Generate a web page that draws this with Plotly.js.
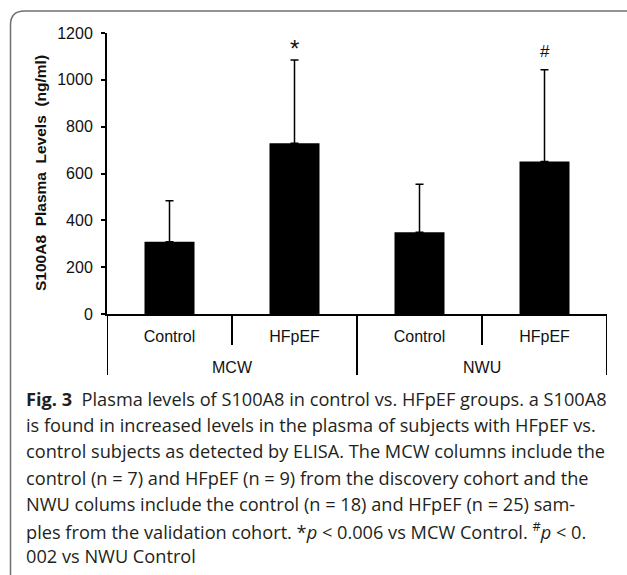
<!DOCTYPE html>
<html><head><meta charset="utf-8">
<script src="https://cdn.plot.ly/plotly-3.0.1.min.js"></script>
<style>html,body{margin:0;padding:0;background:#fff;overflow:hidden}#chart{width:627px;height:575px}</style>
</head><body><div id="chart"></div>
<script>
// ---- data ----
const cohorts = ["MCW", "MCW", "NWU", "NWU"];
const groups = ["Control", "HFpEF", "Control", "HFpEF"];
const meanLevels = [309, 729, 349, 651];
const sdLevels = [175, 356, 205, 392];
const sigMarks = ["", "*", "", "#"];
const yTickVals = [0, 200, 400, 600, 800, 1000, 1200];
const yTitle = "S100A8\u00a0 Plasma\u00a0 Levels\u00a0 (ng/ml)";
const captionLines = [
  "<b>Fig. 3</b>\u00a0 Plasma levels of S100A8 in control vs. HFpEF groups. a S100A8",
  "is found in increased levels in the plasma of subjects with HFpEF vs.",
  "control subjects as detected by ELISA. The MCW columns include the",
  "control (n = 7) and HFpEF (n = 9) from the discovery cohort and the",
  "NWU colums include the control (n = 18) and HFpEF (n = 25) sam-",
  "ples from the validation cohort. *<i>p</i> &lt; 0.006 vs MCW Control. <sup>#</sup><i>p</i> &lt; 0.",
  "002 vs NWU Control"
];

// ---- geometry ----
const W = 627, H = 575, L = 107, R = 20, T = 33, B = 261;
const PW = W - L - R, PH = H - T - B;
const fx = px => (px - L) / PW;
const fy = py => (T + PH - py) / PH;

const idx = groups.map((_, i) => i);

const shapes = [];
// category dividers (Excel style)
for (let i = 0; i <= groups.length; i++) {
  const outer = (i === 0 || i === groups.length || cohorts[i] !== cohorts[i - 1]);
  shapes.push({type: "line", xref: "x", yref: "paper", x0: i - 0.5, x1: i - 0.5,
    y0: 0, y1: fy(outer ? 375 : 345), line: {color: "#000", width: 2}});
}
// rounded frame
(function () {
  const x0 = 10.5, y0 = 11, x1 = 640, y1 = 588, r = 14;
  const p = (x, y) => fx(x) + "," + fy(y);
  const d = "M" + p(x0, y0 + r) + " Q" + p(x0, y0) + " " + p(x0 + r, y0) +
    " L" + p(x1 - r, y0) + " Q" + p(x1, y0) + " " + p(x1, y0 + r) +
    " L" + p(x1, y1 - r) + " Q" + p(x1, y1) + " " + p(x1 - r, y1) +
    " L" + p(x0 + r, y1) + " Q" + p(x0, y1) + " " + p(x0, y1 - r) + " Z";
  shapes.push({type: "path", xref: "paper", yref: "paper", path: d,
    line: {color: "#707070", width: 1.5}, fillcolor: "rgba(0,0,0,0)"});
})();

const annotations = [];
// significance marks
idx.forEach(i => {
  if (sigMarks[i]) annotations.push({x: i, y: meanLevels[i] + sdLevels[i], xref: "x", yref: "y",
    text: sigMarks[i], showarrow: false, yanchor: "bottom", yshift: sigMarks[i] === "*" ? -4 : 7,
    font: {family: "Liberation Sans, Arial", size: sigMarks[i] === "*" ? 24 : 17, color: "#111"}});
});
// cohort labels
[...new Set(cohorts)].forEach(c => {
  const ii = idx.filter(i => cohorts[i] === c);
  const xc = ii.reduce((a, b) => a + b, 0) / ii.length;
  annotations.push({x: xc, xref: "x", y: fy(367), yref: "paper", text: c, showarrow: false,
    yanchor: "middle", font: {family: "Liberation Sans, Arial", size: 16, color: "#111"}});
});
// y title
annotations.push({x: fx(40), xref: "paper", y: fy(173), yref: "paper", text: "<b>" + yTitle + "</b>",
  textangle: -90, showarrow: false, xanchor: "center", yanchor: "middle",
  font: {family: "Liberation Sans, Arial", size: 15.5, color: "#111"}});
// caption
captionLines.forEach((t, k) => {
  annotations.push({x: fx(24), xref: "paper", xanchor: "left", y: fy(399 + k * 26.2), yref: "paper",
    yanchor: "middle", text: t, showarrow: false, align: "left",
    font: {family: "Open Sans", size: 18.2, color: "#231f20"}});
});

const trace = {
  type: "bar", x: idx, y: meanLevels, width: 0.4,
  marker: {color: "#000", line: {width: 0}},
  error_y: {type: "data", symmetric: false, array: sdLevels, arrayminus: meanLevels.map(() => 0),
    color: "#000", thickness: 1.5, width: 4},
  hoverinfo: "skip"
};

const layout = {
  width: W, height: H, margin: {l: L, r: R, t: T, b: B, pad: 0},
  paper_bgcolor: "#fff", plot_bgcolor: "#fff", showlegend: false,
  font: {family: "Liberation Sans, Arial", size: 16, color: "#111"},
  xaxis: {range: [-0.5, groups.length - 0.5], tickvals: idx, ticktext: groups, ticks: "",
    showline: true, linecolor: "#000", linewidth: 2, showgrid: false, zeroline: false,
    ticklabelstandoff: 7, tickfont: {family: "Liberation Sans, Arial", size: 16, color: "#111"}, fixedrange: true},
  yaxis: {range: [0, 1200], tickvals: yTickVals, ticks: "outside", ticklen: 4, tickwidth: 2, tickcolor: "#000",
    showline: true, linecolor: "#000", linewidth: 2, showgrid: false, zeroline: false, ticklabelstandoff: 5,
    tickfont: {family: "Liberation Sans, Arial", size: 16, color: "#111"}, fixedrange: true},
  shapes: shapes, annotations: annotations
};

Plotly.newPlot("chart", [trace], layout, {displayModeBar: false, staticPlot: true});
</script></body></html>
